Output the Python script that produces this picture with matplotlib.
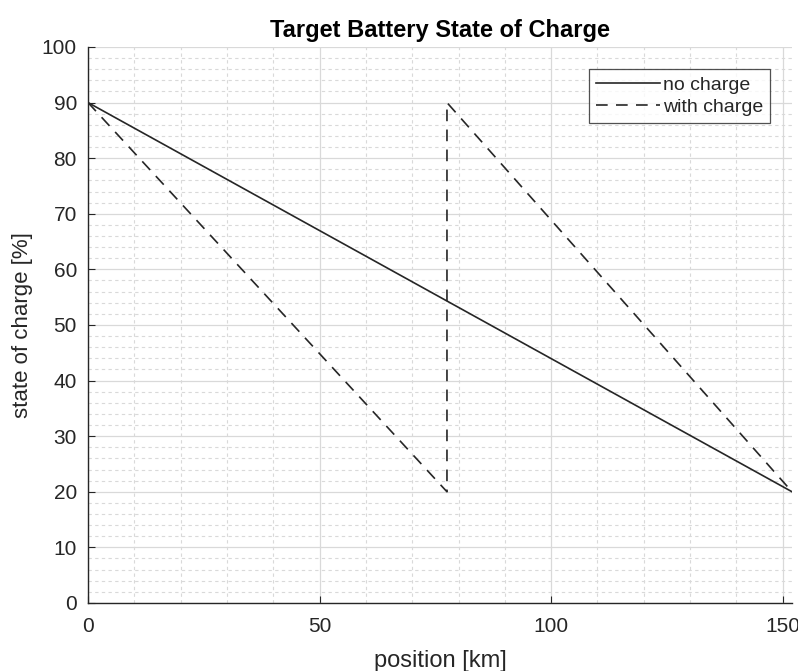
import matplotlib.pyplot as plt
from matplotlib.ticker import MultipleLocator

plt.rcParams['font.family'] = ['Liberation Sans', 'DejaVu Sans']

# battery state of charge along the route
pos_no_charge = [0, 152]
soc_no_charge = [90, 20]

pos_with_charge = [0, 77.5, 77.5, 152]
soc_with_charge = [90, 20, 90, 20]

fig = plt.figure(figsize=(7.98, 6.71), dpi=100)
ax = fig.add_axes([0.1103, 0.1014, 0.8822, 0.8286])

ax.plot(pos_no_charge, soc_no_charge, '-', color='#262626', linewidth=1.2, label='no charge')
ax.plot(pos_with_charge, soc_with_charge, '--', color='#262626', linewidth=1.2,
        dashes=(7, 5), label='with charge')

ax.set_xlim(0, 152)
ax.set_ylim(0, 100)
ax.xaxis.set_major_locator(MultipleLocator(50))
ax.xaxis.set_minor_locator(MultipleLocator(10))
ax.yaxis.set_major_locator(MultipleLocator(10))
ax.yaxis.set_minor_locator(MultipleLocator(2))

ax.grid(which='major', color='#d9d9d9', linewidth=0.9)
ax.grid(which='minor', color='#d9d9d9', linewidth=0.8, linestyle=(0, (3, 3)))
ax.set_axisbelow(True)

ax.spines['top'].set_visible(False)
ax.spines['right'].set_visible(False)
for s in ['left', 'bottom']:
    ax.spines[s].set_color('#262626')
    ax.spines[s].set_linewidth(1.0)

ax.tick_params(which='major', direction='in', length=5, color='#262626',
               labelsize=15, labelcolor='#262626')
ax.tick_params(axis='x', which='major', pad=10)
ax.tick_params(axis='y', which='major', pad=8)
ax.tick_params(which='minor', direction='in', length=0)

ax.set_xlabel('position [km]', fontsize=17, color='#262626', labelpad=10)
ax.set_ylabel('state of charge [%]', fontsize=16, color='#262626', labelpad=6)
ax.set_title('Target Battery State of Charge', fontsize=17, fontweight='bold', color='black', pad=7)

leg = ax.legend(loc='upper right', fontsize=14, frameon=True, fancybox=False,
                handlelength=3.3, handletextpad=0.15, borderpad=0.35,
                borderaxespad=0, bbox_to_anchor=(0.969, 0.960), labelspacing=0.25)
leg.get_frame().set_edgecolor('#262626')
leg.get_frame().set_linewidth(0.9)
for t in leg.get_texts():
    t.set_color('#262626')

fig.savefig('out.png', dpi=100)
